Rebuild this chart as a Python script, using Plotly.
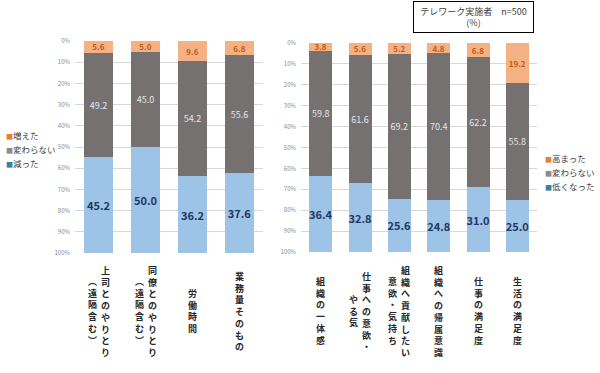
import plotly.graph_objects as go

# ---------------- data ----------------
left_cats = ["上司とのやりとり（遠隔含む）", "同僚とのやりとり（遠隔含む）", "労働時間", "業務量そのもの"]
left_label_cols = [["上司とのやりとり", "︵遠隔含む︶"],
                   ["同僚とのやりとり", "︵遠隔含む︶"],
                   ["労働時間"],
                   ["業務量そのもの"]]
left_names = ["増えた", "変わらない", "減った"]
left_up = [5.6, 5.0, 9.6, 6.8]
left_same = [49.2, 45.0, 54.2, 55.6]
left_down = [45.2, 50.0, 36.2, 37.6]

right_cats = ["組織の一体感", "仕事への意欲・やる気", "組織へ貢献したい意欲・気持ち",
              "組織への帰属意識", "仕事の満足度", "生活の満足度"]
right_label_cols = [["組織の一体感"],
                    ["仕事への意欲・", "やる気"],
                    ["組織へ貢献したい", "意欲・気持ち"],
                    ["組織への帰属意識"],
                    ["仕事の満足度"],
                    ["生活の満足度"]]
right_names = ["高まった", "変わらない", "低くなった"]
right_up = [3.8, 5.6, 5.2, 4.8, 6.8, 19.2]
right_same = [59.8, 61.6, 69.2, 70.4, 62.2, 55.8]
right_down = [36.4, 32.8, 25.6, 24.8, 31.0, 25.0]

title_text = "テレワーク実施者　n=500<br>(%)"

# ---------------- style ----------------
FONT = "Noto Sans CJK JP"
bar_colors = ["#F4B183", "#767171", "#9DC3E6"]
legend_colors = ["#ED7D31", "#8C8C8C", "#31859C"]
text_styles = [dict(color="#C55A11", size=8, family=FONT, weight="bold"),
               dict(color="#E6E6E6", size=9, family=FONT),
               dict(color="#1F3864", size=11, family=FONT, weight="bold")]

W, H = 600, 373
def px_x(p):
    return p / W
def px_y(p):
    return (H - p) / H

fig = go.Figure()

def add_panel(cats, series, names, xa, ya, width):
    for vals, name, col, ts in zip(series, names, bar_colors, text_styles):
        fig.add_trace(go.Bar(
            x=cats, y=vals, name=name, xaxis=xa, yaxis=ya,
            marker=dict(color=col, line=dict(width=0)),
            width=width,
            text=vals, texttemplate="%{y:.1f}",
            textposition="inside", insidetextanchor="middle",
            constraintext="none", textangle=0,
            textfont=ts, showlegend=False, hoverinfo="skip"))

add_panel(left_cats, [left_up, left_same, left_down], left_names, "x", "y", 0.6)
add_panel(right_cats, [right_up, right_same, right_down], right_names, "x2", "y2", 0.585)

yaxis_common = dict(range=[100, 0], dtick=10, ticksuffix="%", showgrid=True,
                    gridcolor="#D9D9D9", gridwidth=1, zeroline=False, showline=False,
                    ticks="", tickfont=dict(size=6, color="#8C8C8C", family=FONT),
                    ticklabelstandoff=4, fixedrange=True, automargin=False)
xaxis_common = dict(showticklabels=False, showgrid=False, zeroline=False, showline=False,
                    ticks="", fixedrange=True, automargin=False)

fig.update_layout(
    width=W, height=H,
    margin=dict(l=0, r=0, t=0, b=0, pad=0, autoexpand=False),
    paper_bgcolor="white", plot_bgcolor="white",
    barmode="stack", bargap=0.4,
    font=dict(family=FONT, color="#404040"),
    xaxis=dict(domain=[px_x(75), px_x(263)], anchor="y", **xaxis_common),
    yaxis=dict(domain=[px_y(253), px_y(41)], anchor="x", **yaxis_common),
    xaxis2=dict(domain=[px_x(301), px_x(537)], anchor="y2", **xaxis_common),
    yaxis2=dict(domain=[px_y(252), px_y(43)], anchor="x2", **yaxis_common),
)

annotations = []

# vertical category labels
def add_cat_labels(cats, cols_list, xref):
    for cat, cols in zip(cats, cols_list):
        n = len(cols)
        for i, col in enumerate(cols):
            shift = 6.5 * (n - 1) - 13 * i if n > 1 else 0
            annotations.append(dict(
                x=cat, xref=xref, y=px_y(311), yref="paper",
                text="<br>".join(list(col)), showarrow=False,
                xanchor="center", yanchor="middle", xshift=shift, align="center",
                font=dict(family=FONT, size=9, color="#262626", weight="bold")))

add_cat_labels(left_cats, left_label_cols, "x")
add_cat_labels(right_cats, right_label_cols, "x2")

# legends
def add_legend(names, x0, yc):
    for i, (nm, c) in enumerate(zip(names, legend_colors)):
        annotations.append(dict(
            x=px_x(x0), xref="paper", y=px_y(yc + (i - 1) * 14), yref="paper",
            text=f'<span style="color:{c};font-size:7px">■</span>{nm}',
            showarrow=False, xanchor="left", yanchor="middle",
            font=dict(family=FONT, size=8.5, color="#404040")))

add_legend(left_names, 4, 149)
add_legend(right_names, 543, 172)

# title box
annotations.append(dict(
    x=px_x(473.5), xref="paper", y=px_y(1), yref="paper",
    text=title_text, showarrow=False, xanchor="center", yanchor="top",
    width=117, height=28, borderpad=1, bordercolor="#000000", borderwidth=1,
    bgcolor="white", align="center",
    font=dict(family=FONT, size=9, color="#404040")))

fig.update_layout(annotations=annotations)

fig.write_html("out.html",
               config={"displayModeBar": False, "staticPlot": True},
               post_script="document.body.style.margin='0px';document.body.style.overflow='hidden';")
